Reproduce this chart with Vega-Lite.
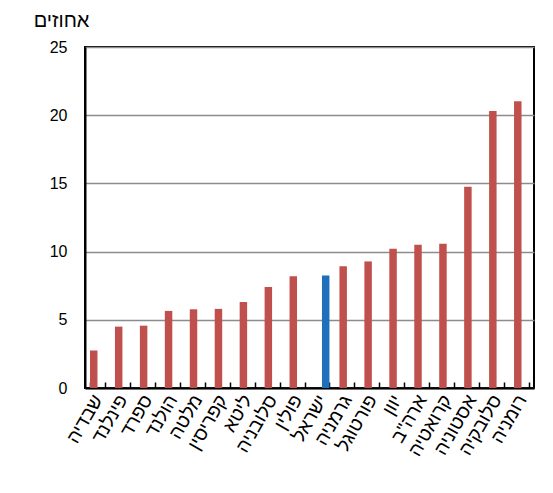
{
  "$schema": "https://vega.github.io/schema/vega-lite/v6.json",
  "width": 449,
  "height": 341,
  "autosize": {"type": "none"},
  "padding": {"left": 85, "top": 47, "right": 19, "bottom": 105},
  "background": "white",
  "config": {
    "font": "Liberation Sans",
    "view": {"stroke": "black", "strokeWidth": 2},
    "axis": {"labelColor": "black", "titleColor": "black", "labelFont": "Liberation Sans", "titleFont": "Liberation Sans"}
  },
  "data": {
    "values": [
      {"country": "שבדיה", "value": 2.75, "group": "other"},
      {"country": "פינלנד", "value": 4.5, "group": "other"},
      {"country": "ספרד", "value": 4.57, "group": "other"},
      {"country": "הולנד", "value": 5.65, "group": "other"},
      {"country": "מלטה", "value": 5.77, "group": "other"},
      {"country": "קפריסין", "value": 5.8, "group": "other"},
      {"country": "ליטא", "value": 6.3, "group": "other"},
      {"country": "סלובניה", "value": 7.4, "group": "other"},
      {"country": "פולין", "value": 8.2, "group": "other"},
      {"country": "ישראל", "value": 8.24, "group": "israel"},
      {"country": "גרמניה", "value": 8.93, "group": "other"},
      {"country": "פורטוגל", "value": 9.28, "group": "other"},
      {"country": "יוון", "value": 10.2, "group": "other"},
      {"country": "ארה\"ב", "value": 10.5, "group": "other"},
      {"country": "קרואטיה", "value": 10.57, "group": "other"},
      {"country": "אסטוניה", "value": 14.76, "group": "other"},
      {"country": "סלובקיה", "value": 20.3, "group": "other"},
      {"country": "רומניה", "value": 21.03, "group": "other"}
    ]
  },
  "mark": {"type": "bar"},
  "encoding": {
    "x": {
      "field": "country",
      "type": "nominal",
      "sort": null,
      "scale": {"paddingInner": 0.4, "paddingOuter": 0.2},
      "axis": {
        "title": null,
        "labelAngle": -60,
        "labelFontSize": 19,
        "labelPadding": 14,
        "domainColor": "black",
        "domainWidth": 2,
        "tickBand": "extent",
        "tickColor": "black",
        "tickWidth": 1.5,
        "tickSize": -6,
        "grid": false
      }
    },
    "xOffset": {"field": "group", "type": "nominal", "scale": {"domain": ["other", "israel"]}},
    "y": {
      "field": "value",
      "type": "quantitative",
      "scale": {"domain": [0, 25], "nice": false},
      "axis": {
        "values": [0, 5, 10, 15, 20, 25],
        "title": "אחוזים",
        "titleAngle": 0,
        "titleAlign": "center",
        "titleBaseline": "middle",
        "titleX": -24,
        "titleY": -27,
        "titleFontSize": 20,
        "titleFontWeight": "normal",
        "labelFontSize": 16,
        "labelPadding": 18,
        "ticks": false,
        "domainColor": "black",
        "domainWidth": 2,
        "grid": true,
        "gridColor": "#8c8c8c",
        "gridWidth": 1.5
      }
    },
    "color": {
      "field": "group",
      "type": "nominal",
      "scale": {"domain": ["other", "israel"], "range": ["#C0504D", "#1F70BA"]},
      "legend": null
    }
  }
}
